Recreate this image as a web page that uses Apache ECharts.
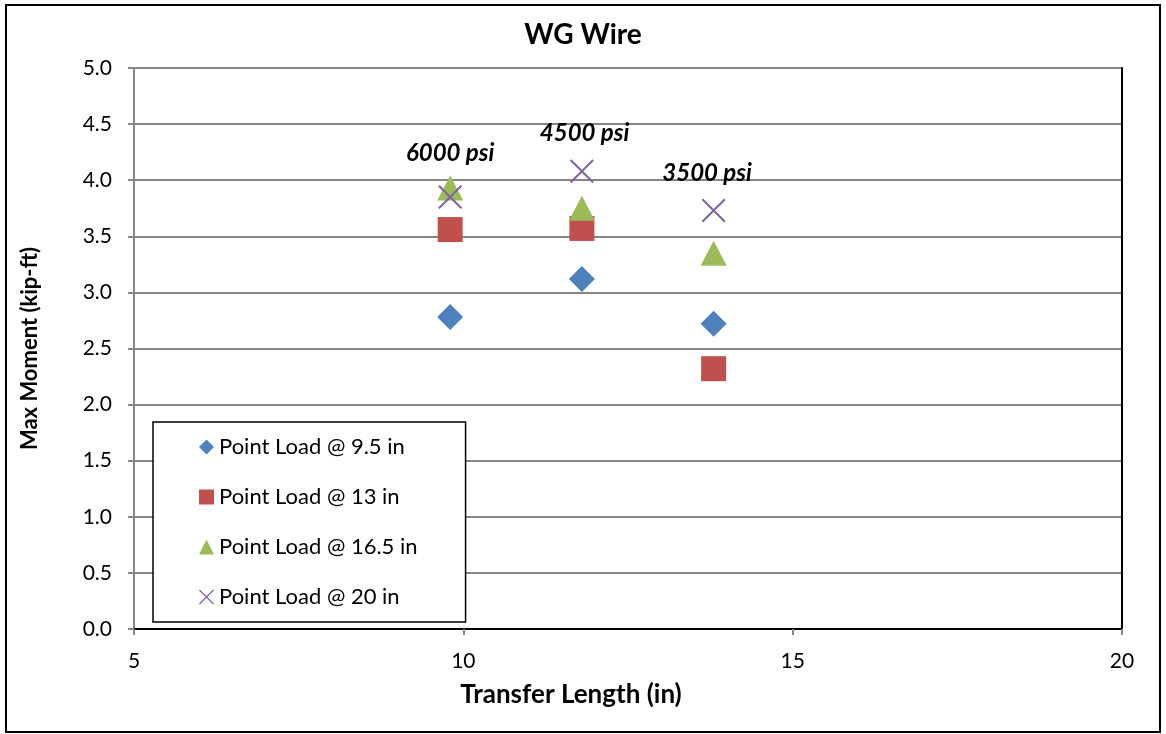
<!DOCTYPE html>
<html>
<head>
<meta charset="utf-8">
<script src="https://cdn.jsdelivr.net/npm/echarts@6/dist/echarts.min.js"></script>
<style>
  html, body { margin: 0; padding: 0; background: #fff; }
  #chart { width: 1166px; height: 734px; }
</style>
</head>
<body>
<div id="chart"></div>
<script>
// transfer length (in) for the three concrete strengths
const transferLength = [9.8, 11.8, 13.8]
// max moment (kip-ft) per load position
const load95 = [2.78, 3.12, 2.72]
const load13 = [3.56, 3.57, 2.32]
const load165 = [3.93, 3.75, 3.35]
const load20 = [3.85, 4.08, 3.73]
const seriesNames = ['Point Load @ 9.5 in', 'Point Load @ 13 in', 'Point Load @ 16.5 in', 'Point Load @ 20 in']
// annotation text placed in data coordinates
const noteText = ['6000 psi', '4500 psi', '3500 psi']
const noteX = [9.8, 11.84, 13.7]
const noteY = [4.24, 4.42, 4.06]

const xTicks = { min: 5, max: 20, interval: 5 }
const yTicks = { min: 0, max: 5, interval: 0.5 }

const crossPath = 'path://M0,6L6,0L50,44L94,0L100,6L56,50L100,94L94,100L50,56L6,100L0,94L44,50Z'

const pairs = vals => transferLength.map((x, i) => [x, vals[i]])

const myChart = echarts.init(document.getElementById('chart'))

const option = {
  animation: false,
  textStyle: { fontFamily: 'Lato' },
  title: {
    text: 'WG Wire',
    left: 'center',
    top: 16,
    textStyle: { fontFamily: 'Lato', fontWeight: 'bold', fontSize: 28, color: '#000' }
  },
  graphic: [
    {
      type: 'rect',
      shape: { x: 6, y: 5, width: 1154, height: 727 },
      style: { fill: 'none', stroke: '#000', lineWidth: 2 },
      silent: true
    }
  ],
  grid: { left: 134, top: 68, right: 44, bottom: 105 },
  legend: {
    data: seriesNames,
    orient: 'vertical',
    left: 153,
    top: 422,
    padding: [14, 48, 14, 46],
    itemGap: 28,
    itemWidth: 15,
    itemHeight: 15,
    borderColor: '#000',
    borderWidth: 1.5,
    backgroundColor: '#fff',
    textStyle: { fontFamily: 'Lato', fontSize: 22, color: '#000' }
  },
  xAxis: [
    {
      type: 'value',
      min: xTicks.min,
      max: xTicks.max,
      interval: xTicks.interval,
      name: 'Transfer Length (in)',
      nameLocation: 'middle',
      nameGap: 53,
      nameTextStyle: {
        fontFamily: 'Lato', fontWeight: 'bold', fontSize: 26, color: '#000',
        padding: [0, 114, 0, 0]
      },
      axisLine: { show: true, onZero: false, lineStyle: { color: '#868686', width: 2 } },
      axisTick: { show: true, length: 6, lineStyle: { color: '#868686', width: 2 } },
      axisLabel: { margin: 22, fontSize: 21, color: '#000' },
      splitLine: { show: false }
    },
    {
      type: 'value',
      position: 'top',
      min: xTicks.min,
      max: xTicks.max,
      axisLine: { show: true, lineStyle: { color: '#000', width: 2 } },
      axisTick: { show: false },
      axisLabel: { show: false },
      splitLine: { show: false }
    }
  ],
  yAxis: [
    {
      type: 'value',
      min: yTicks.min,
      max: yTicks.max,
      interval: yTicks.interval,
      name: 'Max Moment (kip-ft)',
      nameLocation: 'middle',
      nameGap: 93,
      nameRotate: 90,
      nameTextStyle: { fontFamily: 'Lato', fontWeight: 'bold', fontSize: 22, color: '#000' },
      axisLine: { show: true, onZero: false, lineStyle: { color: '#868686', width: 2 } },
      axisTick: { show: true, length: 6, lineStyle: { color: '#868686', width: 2 } },
      axisLabel: { margin: 22, fontSize: 21, color: '#000', formatter: v => v.toFixed(1) },
      splitLine: { show: true, lineStyle: { color: '#868686', width: 2 } }
    },
    {
      type: 'value',
      position: 'right',
      min: yTicks.min,
      max: yTicks.max,
      axisLine: { show: true, lineStyle: { color: '#000', width: 2 } },
      axisTick: { show: false },
      axisLabel: { show: false },
      splitLine: { show: false }
    }
  ],
  series: [
    {
      name: seriesNames[0],
      type: 'scatter',
      symbol: 'diamond',
      symbolSize: 26,
      itemStyle: { color: '#4F81BD', opacity: 1 },
      data: pairs(load95)
    },
    {
      name: seriesNames[1],
      type: 'scatter',
      symbol: 'rect',
      symbolSize: 25,
      itemStyle: { color: '#C0504D', opacity: 1 },
      data: pairs(load13)
    },
    {
      name: seriesNames[2],
      type: 'scatter',
      symbol: 'triangle',
      symbolSize: [26, 25],
      itemStyle: { color: '#9BBB59', opacity: 1 },
      data: pairs(load165)
    },
    {
      name: seriesNames[3],
      type: 'scatter',
      symbol: crossPath,
      symbolSize: 24,
      itemStyle: { color: '#8064A2', opacity: 1 },
      data: pairs(load20)
    },
    {
      name: 'notes',
      type: 'scatter',
      symbolSize: 2,
      itemStyle: { color: 'rgba(0,0,0,0)', opacity: 1 },
      label: {
        show: true,
        position: 'inside',
        formatter: p => p.value[2],
        fontFamily: 'Lato',
        fontWeight: 'bold',
        fontStyle: 'italic',
        fontSize: 24,
        color: '#000'
      },
      data: noteText.map((t, i) => [noteX[i], noteY[i], t])
    }
  ]
}

myChart.setOption(option)
</script>
</body>
</html>
